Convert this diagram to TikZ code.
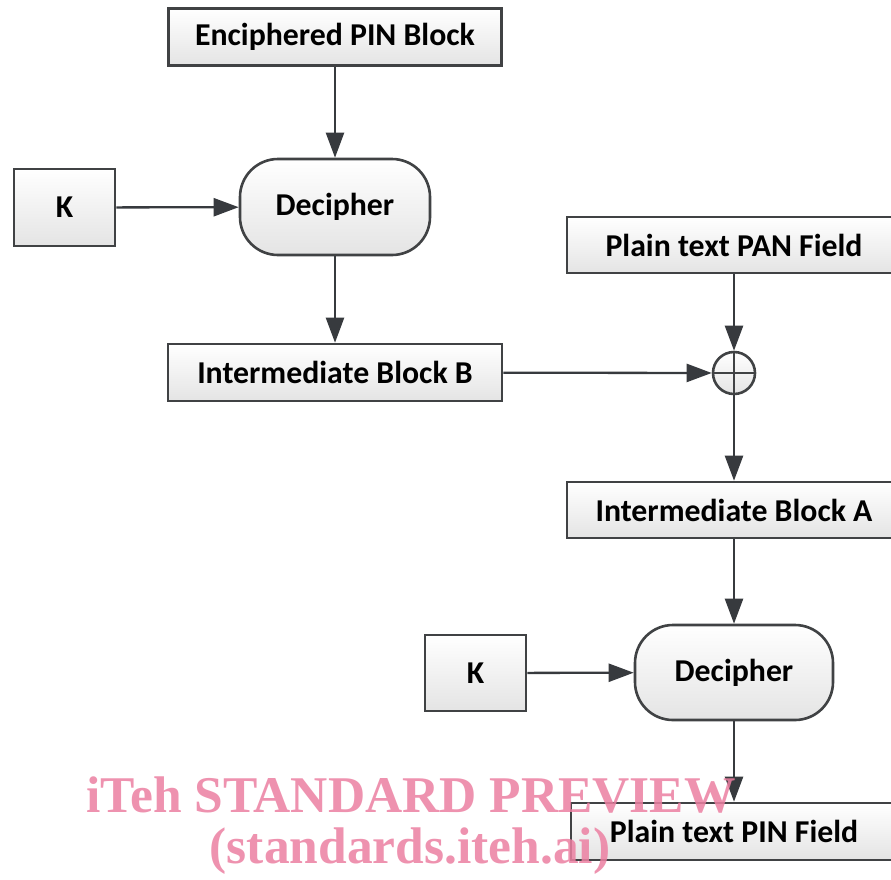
\documentclass[tikz,border=0pt]{standalone}
\usepackage{fontspec}
\setmainfont{Carlito}
\newfontfamily\wmfont{Liberation Serif}
\usetikzlibrary{arrows.meta}
\definecolor{edgec}{RGB}{64,66,68}
\definecolor{arrc}{RGB}{55,58,62}
\definecolor{boxbot}{RGB}{228,228,228}
\definecolor{wmc}{RGB}{236,128,162}
\tikzset{
  box/.style={draw=edgec, line width=2.6pt, top color=white, bottom color=boxbot, inner sep=0pt, font=\fontsize{31.8}{36}\selectfont\bfseries},
  roundbox/.style={box, rounded corners=38pt},
  xorc/.style={circle, draw=edgec, line width=2.6pt, top color=white, bottom color=boxbot, minimum size=42pt, inner sep=0pt},
  arr/.style={draw=arrc, line width=2.3pt, -{Triangle[length=25pt,width=18pt]}},
  wm/.style={text=wmc, font=\wmfont\fontsize{51.5}{56}\selectfont\bfseries, opacity=0.85}
}
\begin{document}
\begin{tikzpicture}[x=1pt,y=-1pt]
\useasboundingbox[fill=white] (0,0) rectangle (891,879);
\node[box, minimum width=333pt, minimum height=57pt] (enc) at (335,37) {Enciphered PIN Block};
\node[box, minimum width=101pt, minimum height=77pt] (k1) at (64.5,207.5) {K};
\node[roundbox, minimum width=190pt, minimum height=96pt] (dec1) at (335,207) {Decipher};
\node[box, minimum width=334pt, minimum height=57pt] (ibb) at (335,372.5) {Intermediate Block B};
\node[box, minimum width=334pt, minimum height=56pt] (pan) at (734,245) {Plain text PAN Field};
\node[xorc] (xor) at (734,373) {};
\draw[edgec, line width=2.6pt] (xor.north) -- (xor.south) (xor.west) -- (xor.east);
\node[box, minimum width=334pt, minimum height=56pt] (iba) at (734,510) {Intermediate Block A};
\node[box, minimum width=101pt, minimum height=76pt] (k2) at (475.5,673) {K};
\node[roundbox, minimum width=198pt, minimum height=95pt] (dec2) at (734,672.5) {Decipher};
\node[box, minimum width=326pt, minimum height=57pt] (pin) at (734,831.5) {Plain text PIN Field};
\draw[arr] (enc) -- (dec1);
\draw[arr] (k1) -- (dec1);
\draw[arr] (dec1) -- (ibb);
\draw[arr] (ibb) -- (xor);
\draw[arr] (pan) -- (xor);
\draw[arr] (xor) -- (iba);
\draw[arr] (iba) -- (dec2);
\draw[arr] (k2) -- (dec2);
\draw[arr] (dec2) -- (pin);
\node[wm] (wm1) at (411,795) {iTeh STANDARD PREVIEW};
\node[wm] (wm2) at (410,851) {(standards.iteh.ai)};
\end{tikzpicture}
\end{document}
